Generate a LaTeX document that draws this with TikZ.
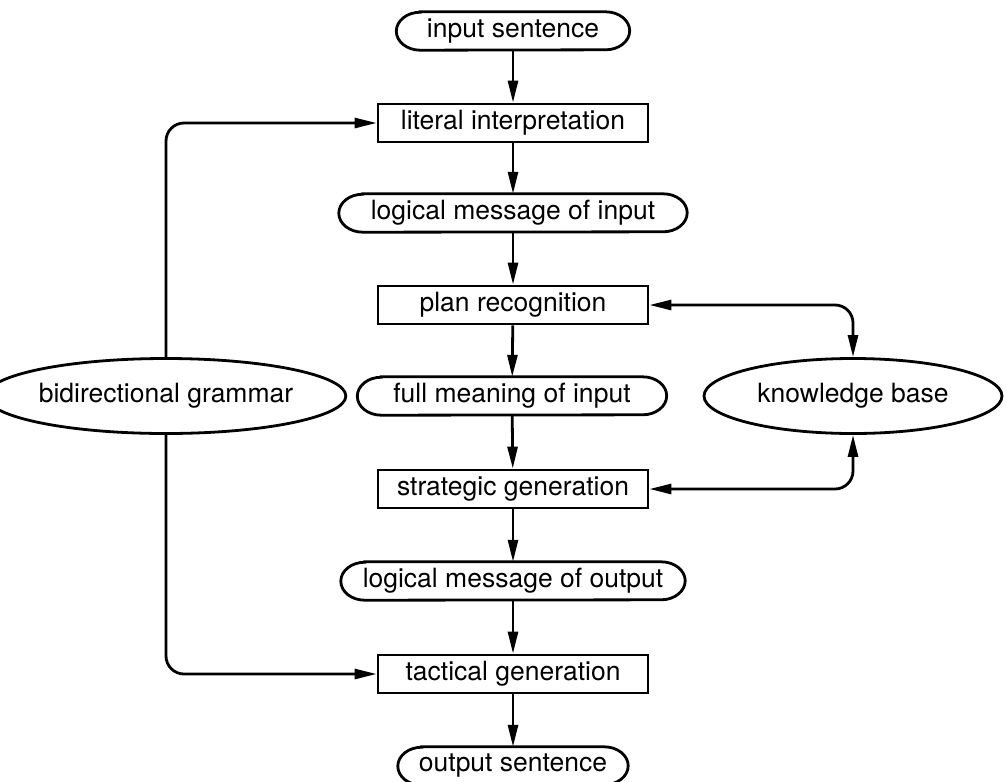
\documentclass[tikz,border=0pt]{standalone}
\usepackage{fontspec}
\setmainfont{TeX Gyre Heros}
\usetikzlibrary{arrows.meta,shapes.geometric}
\begin{document}
\begin{tikzpicture}[x=1pt,y=-1pt,
  lw/.style={line width=2.8pt},
  txt/.style={font=\fontsize{26.5}{30}\selectfont, inner sep=0pt},
  stepbox/.style={txt, draw, lw, minimum width=270pt, minimum height=38pt},
  pill/.style={txt, minimum height=38pt},
  oval/.style={txt, draw, lw, ellipse, minimum height=75pt},
  arr/.style={lw, -{Triangle[length=22pt,width=10pt]}},
  darr/.style={lw, {Triangle[length=22pt,width=10pt]}-{Triangle[length=22pt,width=10pt]}, rounded corners=18pt},
  sarr/.style={arr, rounded corners=18pt}]
\useasboundingbox (0,0) rectangle (1007,782);
\node[pill, minimum width=233pt] (in) at (513,31) {input sentence};
\node[stepbox] (lit) at (513,123) {literal interpretation};
\node[pill, minimum width=348pt] (lmi) at (513,213) {logical message of input};
\node[stepbox] (plan) at (513,305) {plan recognition};
\node[pill, minimum width=309pt] (fmi) at (512,396) {full meaning of input};
\node[stepbox] (strat) at (513,489) {strategic generation};
\node[pill, minimum width=344pt] (lmo) at (513,581) {logical message of output};
\node[stepbox] (tac) at (513,674) {tactical generation};
\node[pill, minimum width=230pt] (out) at (513,766) {output sentence};
\node[oval, minimum width=311pt] (bg) at (166,396) {bidirectional grammar};
\node[oval, minimum width=298pt] (kb) at (853,396) {knowledge base};
\foreach \n in {in,lmi,fmi,lmo,out}{
  \draw[lw] ([xshift=24pt]\n.north west) -- ([xshift=-24pt]\n.north east)
    arc[start angle=90,end angle=-90,x radius=24pt,y radius=19pt]
    -- ([xshift=24pt]\n.south west)
    arc[start angle=270,end angle=90,x radius=24pt,y radius=19pt] -- cycle;
}
\draw[arr] (in) -- (lit);
\draw[arr] (lit) -- (lmi);
\draw[arr] (lmi) -- (plan);
\draw[arr] (plan) -- (fmi);
\draw[arr] (fmi) -- (strat);
\draw[arr] (strat) -- (lmo);
\draw[arr] (lmo) -- (tac);
\draw[arr] (tac) -- (out);
\draw[sarr] (bg.north) |- (lit.west);
\draw[sarr] (bg.south) |- (tac.west);
\draw[darr] (plan.east) -| (kb.north);
\draw[darr] (strat.east) -| (kb.south);
\end{tikzpicture}
\end{document}
